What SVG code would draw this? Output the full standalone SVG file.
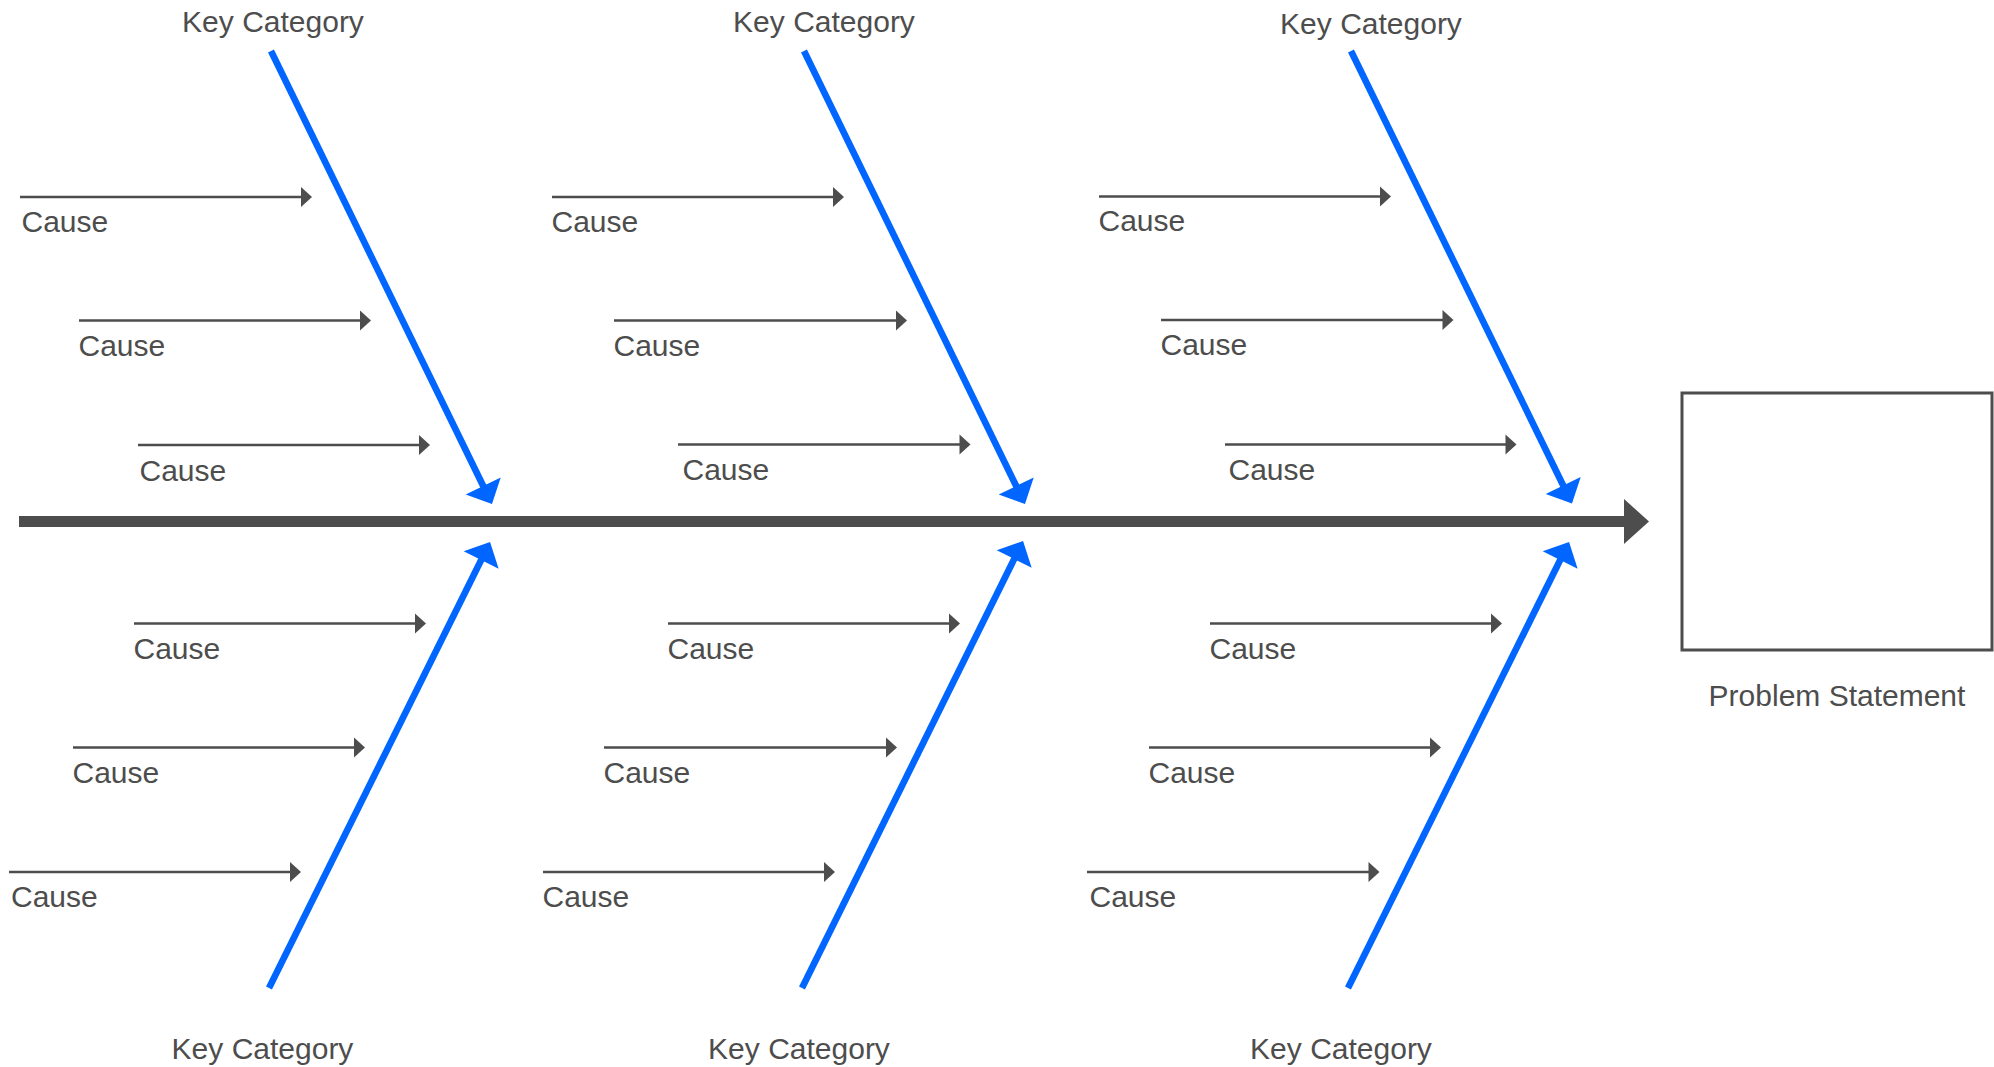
<svg xmlns="http://www.w3.org/2000/svg" width="1994" height="1067" viewBox="0 0 1994 1067">
<style>
  .lbl { font-family: "Liberation Sans", Arial, sans-serif; font-size: 30px; fill: #4d4d4d; }
  .mid { text-anchor: middle; }
  .cause { stroke: #4d4d4d; stroke-width: 2.5; fill: none; marker-end: url(#gh); }
  .bone { stroke: #0066ff; stroke-width: 6.6; fill: none; marker-end: url(#bh); }
  .spine { stroke: #4d4d4d; stroke-width: 11; fill: none; }
  .box { fill: #ffffff; stroke: #4d4d4d; stroke-width: 3; }
</style>
<defs>
  <marker id="gh" markerUnits="userSpaceOnUse" markerWidth="12" markerHeight="20" refX="1" refY="10" orient="auto" overflow="visible">
    <path d="M0,0 L11,10 L0,20 Z" fill="#4d4d4d"/>
  </marker>
  <marker id="bh" markerUnits="userSpaceOnUse" markerWidth="20" markerHeight="39" refX="5" refY="19.5" orient="auto" overflow="visible">
    <path d="M0,0 L20,19.5 L0,39 Z" fill="#0066ff"/>
  </marker>
</defs>
<rect x="0" y="0" width="1994" height="1067" fill="#ffffff"/>

<g id="connectors">
  <line class="spine" x1="19" y1="521.5" x2="1625" y2="521.5"/>
  <path d="M1624,499 L1649,521.5 L1624,544 Z" fill="#4d4d4d"/>

  <line class="bone" x1="271" y1="51" x2="485.4" y2="490.5"/>
  <line class="bone" x1="804" y1="51" x2="1018.4" y2="490.5"/>
  <line class="bone" x1="1351" y1="51" x2="1565.4" y2="490"/>
  <line class="bone" x1="269" y1="988" x2="483.4" y2="555.5"/>
  <line class="bone" x1="802" y1="988" x2="1016.4" y2="554.5"/>
  <line class="bone" x1="1348" y1="988" x2="1562.4" y2="555.5"/>

  <line class="cause" x1="20" y1="197" x2="302" y2="197"/>
  <line class="cause" x1="79" y1="320.5" x2="361" y2="320.5"/>
  <line class="cause" x1="138" y1="445" x2="420" y2="445"/>
  <line class="cause" x1="552" y1="197" x2="834" y2="197"/>
  <line class="cause" x1="614" y1="320.5" x2="897" y2="320.5"/>
  <line class="cause" x1="678" y1="444.5" x2="960.5" y2="444.5"/>
  <line class="cause" x1="1099" y1="196.5" x2="1381" y2="196.5"/>
  <line class="cause" x1="1161" y1="320" x2="1443.5" y2="320"/>
  <line class="cause" x1="1225" y1="444.5" x2="1506.5" y2="444.5"/>

  <line class="cause" x1="134" y1="623.5" x2="416" y2="623.5"/>
  <line class="cause" x1="73" y1="747.5" x2="355" y2="747.5"/>
  <line class="cause" x1="9" y1="872" x2="291" y2="872"/>
  <line class="cause" x1="668" y1="623.5" x2="950" y2="623.5"/>
  <line class="cause" x1="604" y1="747.5" x2="887" y2="747.5"/>
  <line class="cause" x1="543" y1="872" x2="825" y2="872"/>
  <line class="cause" x1="1210" y1="623.5" x2="1492" y2="623.5"/>
  <line class="cause" x1="1149" y1="747.5" x2="1431" y2="747.5"/>
  <line class="cause" x1="1087" y1="872" x2="1369.5" y2="872"/>
</g>

<g id="problem-statement">
  <rect class="box" x="1682" y="393" width="310" height="257"/>
  <text class="lbl mid" x="1837" y="706">Problem Statement</text>
</g>

<g id="category-top-1"><text class="lbl mid" x="273" y="32">Key Category</text></g>
<g id="category-top-2"><text class="lbl mid" x="824" y="32">Key Category</text></g>
<g id="category-top-3"><text class="lbl mid" x="1371" y="34">Key Category</text></g>
<g id="category-bottom-1"><text class="lbl mid" x="262.5" y="1059">Key Category</text></g>
<g id="category-bottom-2"><text class="lbl mid" x="799" y="1059">Key Category</text></g>
<g id="category-bottom-3"><text class="lbl mid" x="1341" y="1059">Key Category</text></g>

<g id="cause-t1-1"><text class="lbl" x="21.5" y="231.5">Cause</text></g>
<g id="cause-t1-2"><text class="lbl" x="78.5" y="355.5">Cause</text></g>
<g id="cause-t1-3"><text class="lbl" x="139.5" y="481">Cause</text></g>
<g id="cause-t2-1"><text class="lbl" x="551.5" y="231.5">Cause</text></g>
<g id="cause-t2-2"><text class="lbl" x="613.5" y="355.5">Cause</text></g>
<g id="cause-t2-3"><text class="lbl" x="682.5" y="480">Cause</text></g>
<g id="cause-t3-1"><text class="lbl" x="1098.5" y="231">Cause</text></g>
<g id="cause-t3-2"><text class="lbl" x="1160.5" y="355">Cause</text></g>
<g id="cause-t3-3"><text class="lbl" x="1228.5" y="480">Cause</text></g>

<g id="cause-b1-1"><text class="lbl" x="133.5" y="659">Cause</text></g>
<g id="cause-b1-2"><text class="lbl" x="72.5" y="783">Cause</text></g>
<g id="cause-b1-3"><text class="lbl" x="11" y="907">Cause</text></g>
<g id="cause-b2-1"><text class="lbl" x="667.5" y="659">Cause</text></g>
<g id="cause-b2-2"><text class="lbl" x="603.5" y="783">Cause</text></g>
<g id="cause-b2-3"><text class="lbl" x="542.5" y="907">Cause</text></g>
<g id="cause-b3-1"><text class="lbl" x="1209.5" y="659">Cause</text></g>
<g id="cause-b3-2"><text class="lbl" x="1148.5" y="783">Cause</text></g>
<g id="cause-b3-3"><text class="lbl" x="1089.5" y="907">Cause</text></g>
</svg>
